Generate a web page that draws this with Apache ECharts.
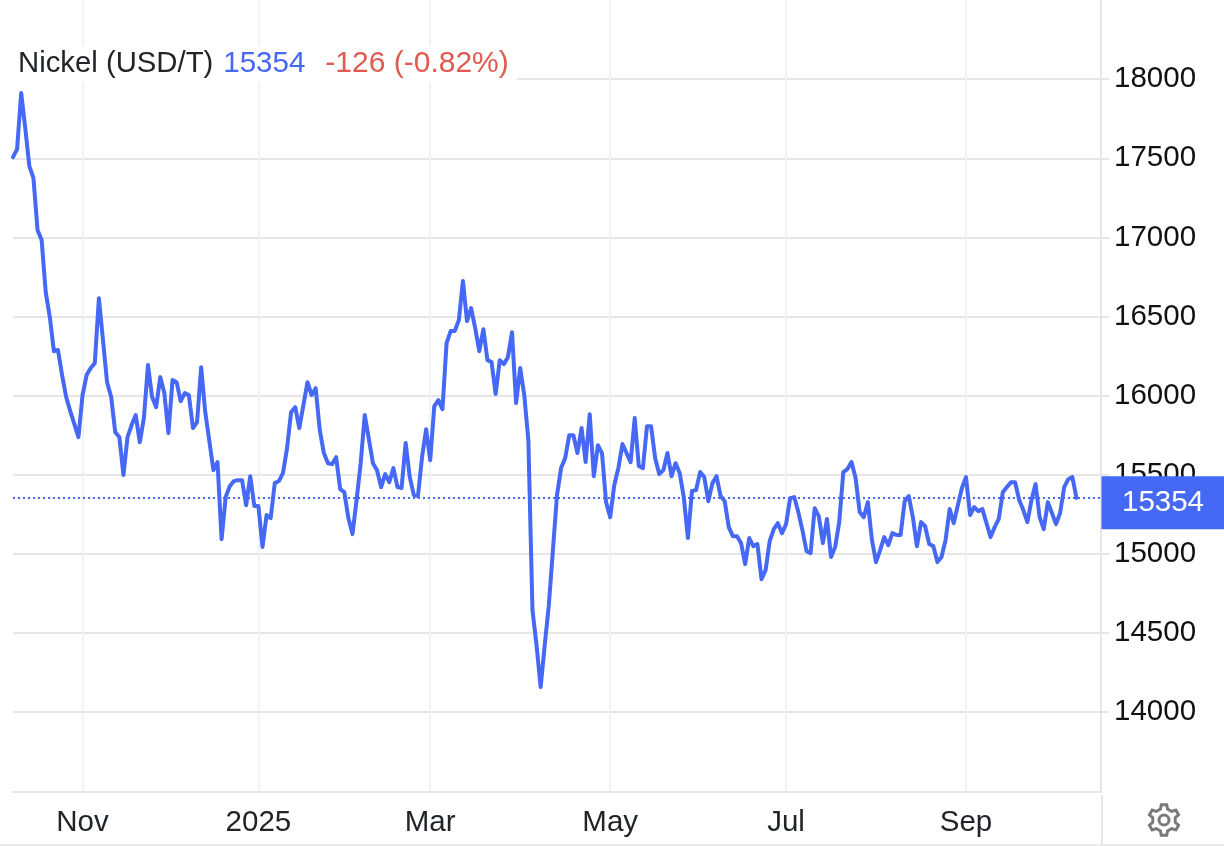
<!DOCTYPE html>
<html>
<head>
<meta charset="utf-8">
<style>html,body{margin:0;padding:0;background:#fff}#c{width:1224px;height:846px}</style>
<script src="https://cdn.jsdelivr.net/npm/echarts@6/dist/echarts.min.js"></script>
</head>
<body>
<div id="c"></div>
<script>
const seriesName = 'Nickel (USD/T)';
const lastPrice = 15354;
const changeText = '-126 (-0.82%)';
const tickLabels = ['Nov', '2025', 'Mar', 'May', 'Jul', 'Sep'];
const tickSlots = [17, 60, 102, 146, 189, 233];
const slotCount = 267;
const prices = [
17507,17558,17912,17690,17450,17374,17046,16983,16654,16496,
16281,16288,16130,15991,15902,15820,15738,16003,16130,16174,
16205,16616,16351,16085,15991,15769,15738,15498,15738,15814,
15877,15706,15858,16193,15991,15927,16117,16016,15763,16098,
16085,15965,16016,16003,15795,15833,16180,15896,15713,15529,
15580,15093,15359,15428,15460,15466,15466,15308,15491,15302,
15302,15043,15245,15226,15447,15460,15510,15668,15896,15927,
15795,15940,16085,16003,16047,15782,15637,15573,15567,15611,
15409,15390,15226,15125,15340,15573,15877,15725,15573,15529,
15422,15504,15453,15542,15422,15416,15700,15485,15371,15365,
15611,15788,15592,15934,15972,15915,16332,16408,16408,16477,
16724,16471,16553,16427,16281,16420,16224,16212,16010,16224,
16199,16243,16401,15953,16174,16003,15719,14645,14423,14158,
14423,14676,15024,15371,15542,15605,15750,15750,15637,15795,
15580,15883,15491,15687,15637,15327,15232,15434,15542,15694,
15637,15580,15858,15555,15542,15807,15807,15605,15504,15529,
15637,15491,15573,15510,15359,15100,15397,15403,15517,15485,
15333,15447,15491,15365,15333,15169,15112,15112,15068,14935,
15100,15049,15062,14840,14897,15081,15156,15194,15131,15188,
15352,15359,15264,15150,15017,15005,15289,15239,15068,15220,
14980,15043,15201,15517,15536,15580,15479,15264,15232,15327,
15087,14948,15024,15106,15055,15131,15119,15119,15333,15365,
15232,15049,15201,15175,15062,15049,14948,14980,15087,15283,
15194,15308,15416,15485,15245,15295,15270,15283,15194,15106,
15169,15220,15390,15422,15453,15453,15340,15277,15201,15340,
15441,15232,15156,15327,15258,15188,15258,15422,15472,15485,
15354];

const categories = Array.from({length: slotCount}, (_, i) => {
  const k = tickSlots.indexOf(i);
  return k >= 0 ? tickLabels[k] : '';
});
const isTick = (i, v) => v !== '';

const BLUE = '#4568f5', GRID = '#e6e6e6', VGRID = '#f0f3f7', FONT = '"Liberation Sans", Arial, sans-serif';

function gearPoints(cx, cy, ro, ri, teeth) {
  const pts = [];
  const step = Math.PI * 2 / teeth;
  for (let t = 0; t < teeth; t++) {
    const a = -Math.PI / 2 + t * step;
    [[-0.30, ri], [-0.17, ro], [0.17, ro], [0.30, ri]].forEach(([f, r]) => {
      const b = a + f * step;
      pts.push([cx + r * Math.cos(b), cy + r * Math.sin(b)]);
    });
  }
  return pts;
}

const chart = echarts.init(document.getElementById('c'), null, {renderer: 'canvas'});
chart.setOption({
  animation: false,
  backgroundColor: '#fff',
  textStyle: {fontFamily: FONT},
  title: {
    left: 13, top: 44,
    padding: [3, 8, 3, 5],
    backgroundColor: '#fff',
    z: 10,
    text: '{a|' + seriesName + '}  {b|' + lastPrice + '}    {c|' + changeText + '}',
    textStyle: {
      fontWeight: 'normal',
      rich: {
        a: {fontFamily: FONT, fontWeight: 'normal', fontSize: 29.3, color: '#212529', lineHeight: 34},
        b: {fontFamily: FONT, fontWeight: 'normal', fontSize: 29.5, color: BLUE, lineHeight: 34},
        c: {fontFamily: FONT, fontWeight: 'normal', fontSize: 30, color: '#e05a52', lineHeight: 34}
      }
    }
  },
  grid: {left: 13, width: 1088, top: 0, height: 791.25},
  xAxis: {
    type: 'category',
    data: categories,
    boundaryGap: false,
    axisLine: {show: true, lineStyle: {color: GRID, width: 2}},
    axisTick: {show: false},
    axisLabel: {interval: isTick, color: '#212529', fontFamily: FONT, fontSize: 29.5, margin: 17},
    splitLine: {show: true, interval: isTick, lineStyle: {color: VGRID, width: 2}}
  },
  yAxis: {
    type: 'value',
    position: 'right',
    min: 13500, max: 18500, interval: 500,
    axisLine: {show: true, lineStyle: {color: GRID, width: 2}},
    axisTick: {show: true, length: 8, lineStyle: {color: GRID, width: 2}},
    axisLabel: {showMinLabel: false, showMaxLabel: false, formatter: v => String(v), color: '#111', fontFamily: FONT, fontSize: 29.5, margin: 13, verticalAlign: 'middle', lineHeight: 28, padding: [0, 0, 5, 0]},
    splitLine: {show: true, showMaxLine: false, lineStyle: {color: GRID, width: 2}}
  },
  series: [{
    name: seriesName,
    type: 'line',
    data: prices,
    showSymbol: false,
    symbol: 'none',
    lineStyle: {color: BLUE, width: 4, join: 'round', cap: 'round'},
    clip: false,
    z: 5,
    markLine: {
      silent: true,
      symbol: 'none',
      z: 4,
      lineStyle: {color: BLUE, type: [2, 3], width: 2},
      label: {
        position: 'end', distance: 0,
        offset: [62, 5],
        formatter: String(lastPrice),
        color: '#fff', fontFamily: FONT, fontSize: 29.5,
        backgroundColor: BLUE,
        width: 123, height: 53, lineHeight: 53, align: 'center'
      },
      data: [{yAxis: lastPrice}]
    }
  }],
  graphic: [
    {type: 'line', silent: true, shape: {x1: 1102, y1: 795, x2: 1102, y2: 846}, style: {stroke: GRID, lineWidth: 2}},
    {type: 'line', silent: true, shape: {x1: 0, y1: 845, x2: 1224, y2: 845}, style: {stroke: GRID, lineWidth: 1.5}},
    {type: 'polygon', silent: true, shape: {points: gearPoints(1164, 820, 15.5, 11.5, 6)}, style: {fill: 'none', stroke: '#7a7a7a', lineWidth: 3}},
    {type: 'circle', silent: true, shape: {cx: 1164, cy: 820, r: 5}, style: {fill: 'none', stroke: '#7a7a7a', lineWidth: 3}}
  ]
});
</script>
</body>
</html>
